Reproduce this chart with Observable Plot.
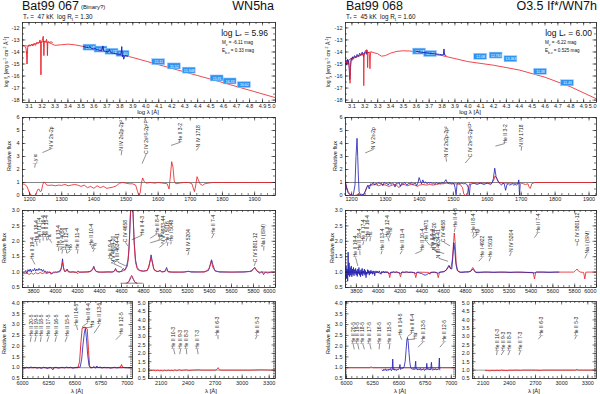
<!DOCTYPE html>
<html><head><meta charset="utf-8">
<script src="https://cdn.jsdelivr.net/npm/d3@7"></script>
<script src="https://cdn.jsdelivr.net/npm/@observablehq/plot@0.6"></script>
<style>
body{margin:0;background:#fff;}
#root{position:relative;width:600px;height:394px;overflow:hidden;background:#fff;font-family:"Liberation Sans",Arial,Helvetica,sans-serif;color:#111;}
.t{position:absolute;white-space:nowrap;line-height:1;}
.t sub,.t sup{line-height:0;}
</style></head><body><div id="root"></div>
<script>
// ---------------- DATA ----------------
// SED panels (log lambda, log f_lambda)
const sedModelL = [[3.05,-13.45],[3.08,-13.5],[3.1,-13.5],[3.15,-13.3],[3.2,-13.15],[3.25,-13.2],[3.3,-13.45],[3.35,-13.4],[3.4,-13.35],[3.45,-13.4],[3.5,-13.5],[3.55,-13.62],[3.6,-13.74],[3.7,-13.96],[3.8,-14.2],[3.9,-14.46],[4.0,-14.76],[4.2,-15.36],[4.4,-15.96],[4.6,-16.56],[4.8,-17.18],[5.0,-17.8]];
const sedUvObsL = [[3.05,-13.5],[3.06,-13.45],[3.07,-13.55],[3.075,-13.6],[3.08,-13.9],[3.085,-15.0],[3.088,-14.2],[3.09,-13.6],[3.1,-13.4],[3.11,-13.5],[3.12,-13.35],[3.13,-13.5],[3.14,-13.3],[3.15,-13.45],[3.16,-13.2],[3.17,-13.3],[3.18,-13.2],[3.185,-13.0],[3.19,-13.4],[3.192,-15.9],[3.195,-13.3],[3.2,-13.1],[3.205,-12.9],[3.21,-12.7],[3.212,-13.2],[3.215,-14.3],[3.218,-13.2],[3.22,-13.1],[3.23,-13.15],[3.235,-12.95],[3.24,-13.2],[3.242,-14.3],[3.245,-13.2],[3.25,-13.15],[3.26,-13.2],[3.27,-13.15],[3.28,-13.2]];
const sedOptObsL = [[3.52,-13.55],[3.54,-13.6],[3.56,-13.65],[3.57,-13.55],[3.58,-13.7],[3.6,-13.75],[3.61,-13.7],[3.62,-13.8],[3.64,-13.85],[3.66,-13.9],[3.67,-13.5],[3.675,-13.9],[3.69,-13.95],[3.71,-14.0],[3.72,-13.8],[3.73,-14.05],[3.75,-14.1],[3.77,-14.15],[3.79,-14.2],[3.81,-14.2],[3.815,-13.55],[3.82,-14.4],[3.825,-14.25],[3.83,-14.6],[3.84,-14.3],[3.86,-14.35]];
const photL = [[3.57,-13.64,"14.01"],[3.655,-13.8,"14.08"],[3.74,-13.98,"14.21"],[3.825,-14.15,"14.40"],[4.10,-14.85,"15.11"],[4.22,-15.2,"15.52"],[4.335,-15.55,"15.948"],[4.55,-16.2,"15.91"],[4.65,-16.45,"16.33"],[4.76,-16.75,"16.62"]];

const sedModelR = [[3.05,-14.8],[3.07,-14.7],[3.1,-14.5],[3.15,-14.3],[3.2,-14.1],[3.25,-14.0],[3.3,-14.15],[3.33,-14.35],[3.36,-14.3],[3.4,-14.1],[3.45,-13.95],[3.5,-13.9],[3.55,-13.92],[3.6,-14.0],[3.7,-14.15],[3.8,-14.3],[3.9,-14.55],[4.0,-14.8],[4.2,-15.1],[4.4,-15.5],[4.6,-16.1],[4.8,-16.9],[5.0,-17.9]];
const sedUvRedR = [[3.055,-14.9],[3.065,-14.8],[3.075,-14.95],[3.08,-15.3],[3.085,-16.6],[3.09,-15.2],[3.095,-14.7],[3.1,-14.6],[3.11,-14.55],[3.12,-14.5],[3.13,-14.4],[3.14,-14.45],[3.15,-14.3],[3.16,-14.35],[3.17,-14.2],[3.18,-14.25],[3.185,-14.1],[3.19,-14.3],[3.192,-16.8],[3.195,-14.3],[3.2,-14.1],[3.21,-14.0],[3.215,-13.8],[3.22,-14.2],[3.222,-15.3],[3.225,-14.1],[3.23,-14.0],[3.235,-14.1],[3.24,-15.4],[3.245,-14.05],[3.25,-14.0]];
const sedUvBlueR = [[3.055,-14.7],[3.06,-15.1],[3.065,-14.6],[3.07,-15.0],[3.075,-14.7],[3.08,-15.6],[3.083,-16.3],[3.086,-16.0],[3.09,-14.9],[3.095,-14.5],[3.1,-14.7],[3.105,-14.4],[3.11,-14.6],[3.12,-14.3],[3.13,-14.5],[3.14,-14.2],[3.15,-14.4],[3.16,-14.1],[3.17,-14.3],[3.18,-14.0],[3.19,-14.4],[3.2,-14.0],[3.21,-13.85],[3.215,-14.2],[3.22,-13.9]];
const sedOptObsR = [[3.6,-13.95],[3.63,-14.0],[3.66,-14.05],[3.7,-14.1],[3.74,-14.15],[3.78,-14.2],[3.81,-14.25],[3.815,-13.75],[3.82,-14.25],[3.83,-14.28]];
const photR = [[3.625,-13.97,"12.93"],[3.71,-14.17,"12.86"],[4.10,-14.4,"12.08"],[4.22,-14.3,"12.763"],[4.335,-14.6,"13.363"],[4.565,-15.65,"11.38"],[4.775,-16.6,"11.43"]];

// UV panels (lambda, relative flux)
const uvRedL = [[1178,0.9],[1185,0.85],[1192,0.7],[1198,0.3],[1203,0.05],[1210,0.0],[1215,0.0],[1220,0.1],[1225,0.45],[1229,0.5],[1233,0.3],[1237,0.35],[1241,0.85],[1245,1.05],[1249,0.95],[1253,0.8],[1260,0.78],[1270,0.8],[1280,0.75],[1290,0.8],[1300,0.78],[1310,0.85],[1320,0.75],[1330,0.8],[1340,0.85],[1350,0.8],[1360,0.7],[1370,0.8],[1380,0.6],[1390,0.7],[1400,0.55],[1410,0.75],[1420,0.6],[1430,0.7],[1440,0.55],[1450,0.6],[1460,0.65],[1470,0.75],[1480,0.95],[1490,1.0],[1500,0.95],[1510,0.9],[1520,0.9],[1530,0.8],[1536,0.3],[1540,0.0],[1544,0.2],[1548,1.0],[1552,1.35],[1556,1.1],[1562,0.95],[1575,1.0],[1590,0.95],[1600,1.0],[1615,0.95],[1628,0.9],[1634,0.5],[1638,1.5],[1642,2.6],[1646,2.2],[1650,1.1],[1655,0.9],[1665,0.95],[1680,1.0],[1695,1.0],[1705,0.9],[1710,0.5],[1713,0.3],[1717,0.8],[1721,1.45],[1725,1.2],[1730,0.9],[1738,0.78],[1745,0.9],[1755,0.95],[1770,1.0],[1800,1.0],[1850,1.0],[1900,1.0],[1965,1.0]];
const uvBlueR = [[1182,0.95],[1186,0.5],[1190,0.2],[1195,0.05],[1200,0.0],[1205,0.05],[1210,0.8],[1213,3.0],[1216,4.4],[1218,3.0],[1220,1.5],[1222,0.3],[1226,0.05],[1230,0.1],[1235,0.05],[1240,0.3],[1244,0.6],[1248,0.8],[1252,0.5],[1256,0.9],[1260,0.85],[1264,1.0],[1268,0.8],[1272,0.95],[1276,0.85],[1280,1.0],[1284,0.9],[1288,0.95],[1292,0.75],[1296,1.0],[1300,0.9],[1304,0.95],[1308,0.8],[1312,1.0],[1316,0.85],[1320,0.95],[1324,0.9],[1328,0.65],[1332,0.95],[1336,0.9],[1340,1.0],[1344,0.7],[1348,0.95],[1352,0.85],[1356,1.0],[1360,0.9],[1364,0.8],[1368,0.95],[1372,0.9],[1376,1.0],[1380,0.85],[1384,0.9],[1388,0.95],[1392,0.75],[1396,1.0],[1399,1.38],[1403,1.1],[1406,0.9],[1410,1.2],[1414,0.95],[1418,1.05],[1422,0.9],[1426,1.0],[1430,0.95],[1434,1.0],[1438,0.9],[1442,0.95],[1446,0.85],[1450,1.0],[1454,0.9],[1458,0.95],[1462,0.9],[1466,1.0],[1470,0.95],[1474,1.05],[1478,1.22],[1482,1.0],[1486,0.95],[1490,1.0],[1494,0.9],[1498,0.95],[1502,0.9],[1505,0.6],[1508,0.05],[1511,0.9],[1515,0.95],[1520,0.9],[1525,0.95],[1530,0.9],[1535,0.92],[1540,0.85],[1544,0.6],[1547,0.02],[1550,0.85],[1555,0.9],[1560,0.95],[1565,0.9],[1570,0.85],[1575,0.9],[1580,0.95],[1585,0.9],[1590,0.85],[1595,0.9],[1600,0.95],[1605,0.9],[1610,0.85],[1614,0.95],[1618,1.3],[1622,2.1],[1626,1.45],[1630,1.2],[1634,1.0],[1638,0.9],[1642,0.8],[1646,0.95],[1650,0.9],[1654,0.4],[1658,0.85],[1662,0.9],[1666,0.8],[1670,0.85],[1674,0.9],[1678,0.8],[1682,0.85],[1686,0.8],[1690,0.9],[1693,1.2],[1695,0.0],[1697,0.85]];
const uvRedR = [[1182,1.0],[1186,0.6],[1190,0.3],[1195,0.1],[1200,0.0],[1210,0.0],[1215,0.05],[1220,0.1],[1225,0.05],[1230,0.0],[1235,0.05],[1240,0.3],[1245,0.6],[1250,0.75],[1260,0.8],[1270,0.85],[1280,0.75],[1290,0.85],[1300,0.8],[1310,0.7],[1320,0.8],[1330,0.85],[1340,0.6],[1345,0.8],[1355,0.85],[1365,0.75],[1375,0.85],[1385,0.8],[1395,0.7],[1400,0.8],[1410,0.85],[1420,0.8],[1430,0.85],[1440,0.8],[1450,0.85],[1460,0.9],[1470,0.9],[1480,0.95],[1490,0.9],[1500,0.9],[1510,0.9],[1520,0.85],[1527,0.6],[1531,0.1],[1536,0.0],[1541,0.1],[1545,0.7],[1550,1.0],[1560,0.95],[1580,0.95],[1600,0.95],[1612,0.95],[1618,1.1],[1623,1.5],[1628,1.3],[1634,1.0],[1650,0.95],[1670,0.95],[1690,0.9],[1700,0.95],[1712,0.85],[1720,0.9],[1724,0.6],[1727,0.55],[1731,0.9],[1740,1.0],[1800,1.0],[1850,1.0],[1922,1.0]];

// Optical panels
const optBlueL = [[3720,1.0],[3730,1.05],[3740,0.95],[3750,1.08],[3760,1.02],[3770,1.1],[3780,1.0],[3790,1.08],[3800,1.04],[3810,1.12],[3820,1.03],[3830,1.1],[3840,1.05],[3850,1.12],[3860,1.06],[3870,1.1],[3880,1.02],[3890,1.08],[3900,1.0],[3910,1.04],[3920,0.96],[3930,1.02],[3940,0.98],[3950,1.01],[3960,0.93],[3970,0.97],[3980,1.0],[3990,0.98],[4000,1.0],[4010,0.99],[4020,1.01],[4030,1.0],[4045,1.03],[4055,1.15],[4064,1.43],[4072,1.15],[4082,1.02],[4095,1.03],[4105,1.1],[4115,1.03],[4135,1.0],[4160,1.01],[4185,0.99],[4198,1.0],[4206,1.04],[4215,1.0],[4250,1.0],[4290,1.01],[4325,1.03],[4340,1.12],[4348,1.19],[4356,1.1],[4370,1.02],[4400,1.0],[4440,1.0],[4480,1.01],[4520,1.0],[4535,1.03],[4546,1.12],[4558,1.03],[4580,1.0],[4600,1.03],[4616,1.12],[4630,1.06],[4645,1.18],[4660,1.4],[4672,2.0],[4682,2.9],[4694,3.35],[4705,2.9],[4715,2.0],[4727,1.4],[4742,1.15],[4765,1.05],[4800,1.03],[4830,1.05],[4848,1.15],[4862,1.4],[4869,1.56],[4877,1.4],[4892,1.12],[4912,1.03],[4935,1.02],[4950,1.06],[4965,1.01],[4995,1.02],[5010,1.15],[5022,1.02],[5060,1.0],[5120,1.0],[5170,1.0],[5212,1.03],[5230,1.0],[5290,1.0],[5350,1.01],[5390,1.05],[5408,1.25],[5419,1.4],[5430,1.25],[5448,1.05],[5490,1.0],[5560,1.0],[5630,1.0],[5710,1.0],[5765,1.02],[5795,1.08],[5810,1.15],[5824,1.08],[5842,1.0],[5860,0.96],[5876,1.02],[5892,0.92],[5906,1.0],[5930,0.97],[5960,1.0],[5980,0.99]];
const optRedL = [[3700,0.97],[3720,0.95],[3740,0.98],[3760,0.92],[3780,0.97],[3800,0.93],[3820,0.98],[3840,0.94],[3860,0.99],[3880,0.95],[3900,0.98],[3925,0.96],[3950,1.0],[3970,0.95],[3990,1.0],[4020,1.0],[4048,1.08],[4064,1.33],[4076,1.08],[4094,1.02],[4106,1.07],[4118,1.0],[4185,1.0],[4204,0.95],[4218,1.0],[4305,1.0],[4336,1.08],[4348,1.15],[4360,1.05],[4385,1.0],[4505,1.0],[4534,1.03],[4546,1.08],[4559,1.01],[4604,1.02],[4634,1.08],[4654,1.2],[4668,1.7],[4678,2.7],[4690,3.45],[4704,3.0],[4716,1.9],[4728,1.3],[4746,1.08],[4786,1.03],[4836,1.05],[4856,1.3],[4868,1.48],[4881,1.3],[4896,1.07],[4926,1.02],[4950,1.04],[4975,1.0],[5004,1.05],[5012,1.08],[5027,1.0],[5150,1.0],[5205,1.02],[5355,1.0],[5396,1.1],[5416,1.36],[5431,1.15],[5456,1.02],[5600,1.0],[5782,1.02],[5802,1.12],[5814,1.15],[5827,1.05],[5852,1.0],[6000,1.0]];
const insetBaseL = [[4595,0.64],[4790,0.64]];
const insetRedL = [[4640,0.64],[4665,0.68],[4680,0.82],[4692,0.9],[4705,0.8],[4720,0.68],[4740,0.64]];
const insetBlueL = [[4650,0.64],[4670,0.7],[4685,0.82],[4695,0.86],[4708,0.76],[4722,0.67],[4740,0.64]];

const optBlueR = [[3700,0.75],[3705,1.2],[3710,0.8],[3715,1.1],[3720,0.7],[3724,1.65],[3728,0.9],[3733,1.3],[3738,0.85],[3743,1.15],[3748,0.9],[3753,1.2],[3758,0.85],[3763,1.1],[3768,0.92],[3773,1.15],[3778,0.88],[3783,1.08],[3788,0.95],[3793,1.12],[3798,0.9],[3803,1.05],[3808,0.86],[3813,1.1],[3818,0.95],[3823,1.15],[3828,0.9],[3833,1.05],[3838,0.85],[3843,1.08],[3848,0.92],[3853,1.12],[3858,0.88],[3863,1.04],[3868,0.95],[3873,1.1],[3878,0.9],[3883,1.05],[3888,0.82],[3893,1.0],[3898,0.93],[3903,1.08],[3908,0.96],[3913,1.05],[3918,0.9],[3923,1.03],[3928,0.95],[3933,1.06],[3938,0.97],[3943,1.02],[3948,0.93],[3953,1.04],[3958,0.98],[3963,1.03],[3968,0.88],[3973,1.0],[3980,1.04],[3988,0.97],[3995,1.03],[4003,0.98],[4010,1.04],[4018,0.97],[4026,0.93],[4033,1.02],[4040,0.98],[4048,1.03],[4056,0.97],[4064,1.02],[4072,0.98],[4080,1.02],[4090,0.97],[4104,0.94],[4114,1.0],[4124,0.98],[4139,1.01],[4154,0.99],[4169,1.01],[4184,0.98],[4204,0.96],[4219,1.0],[4239,0.99],[4259,1.01],[4279,0.99],[4304,1.0],[4324,0.98],[4344,0.96],[4359,0.99],[4379,0.97],[4399,0.95],[4414,0.92],[4429,0.9],[4444,0.92],[4459,0.95],[4474,0.97],[4494,0.99],[4514,1.0],[4534,0.98],[4548,0.96],[4561,0.99],[4581,1.0],[4601,1.01],[4621,1.06],[4636,1.15],[4648,1.22],[4661,1.12],[4674,1.1],[4684,1.5],[4693,1.95],[4702,1.7],[4712,1.25],[4725,1.05],[4742,1.0],[4767,0.99],[4797,1.0],[4827,1.0],[4852,1.04],[4866,1.1],[4876,1.06],[4893,0.99],[4918,0.98],[4938,0.99],[4968,1.0],[5008,1.0],[5058,0.99],[5108,1.0],[5158,1.0],[5208,0.99],[5258,1.0],[5308,1.0],[5358,0.99],[5408,0.98],[5428,0.97],[5448,1.0],[5508,1.0],[5568,0.99],[5628,1.0],[5655,1.0]];
const optRedR = [[3700,1.0],[3760,1.0],[3800,0.99],[3835,0.97],[3860,1.0],[3888,0.95],[3900,1.0],[3965,0.95],[3980,1.0],[4020,0.96],[4030,1.0],[4095,0.99],[4105,0.82],[4117,1.0],[4192,0.99],[4204,0.85],[4216,1.0],[4332,0.99],[4344,0.82],[4356,1.0],[4462,0.99],[4473,0.93],[4482,1.0],[4538,0.99],[4550,0.82],[4562,1.0],[4604,1.02],[4629,1.08],[4649,1.2],[4664,1.1],[4679,1.4],[4691,2.0],[4697,2.27],[4704,2.0],[4714,1.3],[4727,1.05],[4752,1.0],[4846,1.02],[4866,1.15],[4876,1.1],[4891,1.0],[5000,1.0],[5420,0.99],[5432,0.78],[5442,0.98],[5452,1.0],[5790,1.0],[5808,1.05],[5822,1.1],[5836,1.03],[5852,1.0],[5882,0.99],[5893,0.78],[5903,1.0],[6000,1.0]];

// H-alpha panels
const haBlueL = [[6000,1.0],[6020,0.98],[6040,1.02],[6060,0.99],[6080,1.03],[6100,1.0],[6120,1.02],[6140,0.98],[6160,1.01],[6180,0.97],[6200,1.02],[6220,1.0],[6240,0.96],[6250,0.99],[6270,1.02],[6290,0.9],[6300,1.0],[6320,1.02],[6340,0.98],[6360,1.0],[6380,1.02],[6400,0.99],[6420,1.03],[6440,1.0],[6460,1.02],[6480,0.98],[6500,1.0],[6520,1.02],[6550,1.02],[6565,1.4],[6578,2.1],[6590,2.6],[6600,2.82],[6610,2.4],[6622,1.6],[6635,1.1],[6648,1.0],[6665,1.0],[6680,1.05],[6700,0.98],[6710,1.08],[6720,1.0],[6740,1.03],[6760,0.99],[6780,1.02],[6800,1.0],[6820,1.01],[6840,0.98],[6860,1.0],[6880,1.02],[6900,0.99],[6920,1.0],[6950,1.0],[6970,1.01],[7000,1.0],[7045,1.0]];
const haRedL = [[6000,1.0],[6200,1.0],[6400,1.0],[6530,1.0],[6545,1.3],[6558,2.2],[6570,2.85],[6595,2.88],[6618,2.8],[6630,1.8],[6640,1.1],[6650,1.0],[6700,1.02],[6750,1.0],[6900,1.0],[6935,1.03],[6945,1.15],[6955,1.03],[6970,1.0],[7050,1.0]];
const haBlueR = [[6340,0.9],[6348,0.85],[6356,0.93],[6364,0.88],[6372,0.95],[6380,0.86],[6388,0.92],[6396,0.87],[6404,0.94],[6412,0.89],[6420,0.96],[6428,0.86],[6436,0.92],[6441,1.4],[6446,0.9],[6454,0.95],[6462,0.88],[6470,0.93],[6478,0.87],[6486,0.94],[6494,0.9],[6502,0.96],[6510,1.15],[6515,0.92],[6523,0.95],[6531,0.98],[6540,0.97],[6550,1.05],[6560,1.3],[6568,1.8],[6576,2.3],[6582,2.4],[6588,2.2],[6596,1.7],[6604,1.25],[6612,1.02],[6620,0.95],[6628,0.92],[6636,0.97],[6644,0.9],[6652,0.95],[6660,1.3],[6664,0.92],[6672,0.96],[6680,0.89],[6688,0.95],[6696,0.9],[6704,0.97],[6712,0.88],[6720,0.94],[6728,0.9],[6736,0.96],[6744,0.87],[6752,0.93],[6760,0.9],[6766,1.2],[6772,0.92],[6780,0.96],[6788,0.89],[6796,0.95],[6804,0.9],[6810,1.25],[6816,0.93],[6824,0.88],[6832,0.95],[6840,0.9],[6848,0.96],[6856,0.89],[6864,0.94],[6872,0.9],[6880,0.95],[6886,1.45],[6890,0.9]];
const haRedR = [[5990,1.0],[6225,1.0],[6235,1.05],[6245,1.0],[7040,1.0]];

// near-UV (IUE long wavelength) panels
const nuvRedL = [[1985,0.97],[2020,1.0],[2040,0.96],[2060,1.0],[2080,0.96],[2100,0.98],[2120,0.95],[2140,0.99],[2160,0.96],[2180,1.0],[2200,0.97],[2220,0.99],[2240,0.96],[2253,1.02],[2270,0.97],[2290,1.0],[2306,1.03],[2320,0.98],[2350,1.0],[2385,1.02],[2400,0.98],[2450,1.0],[2511,1.02],[2550,1.0],[2600,1.0],[2700,1.0],[2720,1.05],[2733,1.15],[2746,1.03],[2760,1.0],[2900,1.0],[3100,1.0],[3203,1.02],[3370,1.0]];
const nuvRedR = [[2126,0.97],[2150,0.98],[2175,0.96],[2200,0.98],[2230,0.97],[2260,0.99],[2290,0.97],[2310,1.0],[2340,0.98],[2380,0.97],[2400,1.0],[2420,0.99],[2500,1.0],[2528,0.98],[2550,1.0],[2700,1.0],[2765,0.98],[2780,1.0],[3000,1.0],[3160,1.0],[3175,1.05],[3190,1.0],[3400,1.0]];

// line identifications: [line lambda, text lambda, leader start y, text start y, label]
const labUVL = [[1216,1218,2.15,2.45,"Ly α"],[1240,1268,3.3,3.6,"N V 2s-2p"],[1485,1487,3.1,3.45,"N IV 2s2p-2p²"],[1550,1563,2.45,3.2,"C IV 2s²S-2p²P°"],[1640,1670,3.85,4.1,"He II 3-2"],[1718,1726,3.45,3.7,"N IV 1718"]];
const labUVR = [[1240,1265,3.27,3.55,"N V 2s-2p"],[1480,1478,2.6,2.95,"N IV 2s2p-2p²"],[1535,1550,2.5,2.95,"C IV 2s²S-2p²P°"],[1624,1652,3.8,4.0,"He II 3-2"],[1700,1701,3.45,3.75,"N IV 1718"]];
const labOptL = [[3813,3788,1.25,1.42,"He II 19-4"],[3833,3827,1.85,1.97,"He II 18-4"],[3858,3857,1.95,2.05,"He II 17-4"],[3888,3888,2.02,2.13,"He II 16-4"],[3923,3918,2.02,2.13,"He II 15-4"],[3968,3948,1.95,2.05,"Hε"],[4026,4030,1.68,1.81,"He II 13-4"],[4058,4064,1.6,1.72,"N IV 4058"],[4100,4100,1.62,1.72,"He II 12-4"],[4102,4136,1.6,1.7,"Hδ"],[4200,4203,1.6,1.72,"He II 11-4"],[4340,4324,1.75,1.86,"He II 10-4"],[4340,4355,1.66,1.76,"Hγ"],[4542,4500,1.3,1.43,"He II 9-4"],[4604,4530,1.15,1.27,"N V 4604-20"],[4640,4567,1.2,1.32,"N III 4634-41"],[4658,4636,1.85,1.97,"C IV 4658"],[4694,4788,2.05,2.2,"He II 4-3"],[4861,4924,2.1,2.24,"He II 8-4"],[4861,4955,1.95,2.05,"Hβ"],[4945,4985,1.8,1.92,"N V 4933-44"],[5016,5021,1.85,1.95,"He I 5016"],[5048,5052,1.9,2.0,"He I 5048"],[5204,5212,1.55,1.67,"N IV 5204"],[5419,5439,2.1,2.24,"He II 7-4"],[5806,5818,1.2,1.32,"C IV 5801-12"],[5893,5894,1.7,1.82,"Na I (ISM)"]];
const labOptR = [[3813,3792,1.2,1.48,"He II 19-4"],[3833,3831,1.55,1.7,"He II 18-4"],[3858,3868,1.88,2.0,"He II 17-4"],[3888,3899,2.0,2.13,"He II 16-4"],[3923,3929,2.0,2.13,"Hε"],[4026,4036,1.58,1.7,"He II 13-4"],[4100,4088,2.0,2.13,"He II 12-4"],[4102,4112,2.12,2.24,"Hδ"],[4200,4220,1.58,1.7,"He II 11-4"],[4340,4403,1.6,1.7,"He II 10-4"],[4471,4442,1.88,2.0,"He I 4471"],[4542,4494,1.65,1.78,"He II 9-4"],[4604,4516,1.6,1.7,"N V 4604-20"],[4640,4553,1.35,1.45,"N III 4634-41"],[4658,4601,1.85,1.97,"C IV 4658"],[4697,4705,2.3,2.45,"He II 4-3"],[4866,4876,2.15,2.28,"He II 8-4"],[4866,4906,2.1,2.2,"Hβ"],[4921,4953,1.35,1.48,"He I 4922"],[5016,5029,1.35,1.48,"He I 5016"],[5204,5219,1.52,1.65,"N IV 5204"],[5432,5463,2.12,2.28,"He II 7-4"],[5822,5824,1.85,1.97,"C IV 5801-12"],[5893,5915,1.45,1.6,"Na I (ISM)"]];
const labHaL = [[6074,6083,2.2,2.45,"He II 20-5"],[6118,6130,2.2,2.45,"He II 19-5"],[6171,6178,2.2,2.45,"He II 18-5"],[6234,6251,2.2,2.45,"He II 17-5"],[6311,6324,2.2,2.45,"He II 16-5"],[6407,6426,2.2,2.45,"He II 15-5"],[6527,6515,2.75,2.95,"He II 14-5"],[6570,6627,2.9,3.1,"He II 6-4"],[6575,6665,2.85,2.88,"Hα"],[6683,6738,2.6,3.0,"He II 13-5"],[6891,6942,2.3,2.55,"He II 12-5"]];
const labHaR = [[6074,6063,1.85,2.1,"He II 20-5"],[6118,6107,1.85,2.1,"He II 19-5"],[6171,6155,1.85,2.1,"He II 18-5"],[6234,6222,1.85,2.1,"He II 17-5"],[6311,6315,1.85,2.1,"He II 16-5"],[6407,6413,1.85,2.1,"He II 15-5"],[6527,6510,2.3,2.5,"He II 14-5"],[6582,6624,2.45,2.6,"He II 6-4"],[6585,6653,2.3,2.33,"Hα"],[6683,6733,1.95,2.2,"He II 13-5"],[6891,6934,1.95,2.2,"He II 12-5"]];
const labNuvL = [[2253,2239,1.95,2.26,"He II 10-3"],[2306,2317,1.95,2.26,"He II 9-3"],[2385,2380,1.95,2.26,"He II 8-3"],[2511,2502,1.95,2.26,"He II 7-3"],[2733,2730,2.85,3.05,"He II 6-3"],[3147,3164,2.85,3.05,"He II 5-3"]];
const labNuvR = [[2253,2260,1.9,2.15,"He II 10-3"],[2306,2336,1.9,2.15,"He II 9-3"],[2385,2405,1.9,2.15,"He II 8-3"],[2511,2528,1.9,2.15,"He II 7-3"],[2733,2765,2.85,3.05,"He II 6-3"],[3150,3170,2.85,3.05,"He II 5-3"]];

// tick values
const sedXTicks = [3.1,3.2,3.3,3.4,3.5,3.6,3.7,3.8,3.9,4.0,4.1,4.2,4.3,4.4,4.5,4.6,4.7,4.8,4.9,5.0];
const sedYTicks = [-12,-13,-14,-15,-16,-17,-18];
const uvXTicks = [1200,1300,1400,1500,1600,1700,1800,1900];
const uvYTicks = [0,1,2,3,4,5,6];
const optXTicks = [3800,4000,4200,4400,4600,4800,5000,5200,5400,5600,5800,6000];
const optYTicks = [0.5,1.0,1.5,2.0,2.5,3.0];
const haXTicks = [6000,6250,6500,6750,7000];
const haYTicks = [0.5,1.0,1.5,2.0,2.5,3.0,3.5,4.0];
const nuvXTicks = [2100,2400,2700,3000,3300];
const nuvYTicks = [0.5,1.0,1.5,2.0,2.5,3.0,3.5,4.0,4.5,5.0];

// ---------------- DRAWING ----------------
const root = document.getElementById("root");
const RED = "#ea1a22", BLUE = "#1c1cb4", INK = "#222";
const FONT = "Liberation Sans, Arial, Helvetica, sans-serif";

function txt(html, x, y, size, anchor = "start", rot = false) {
  const d = document.createElement("div");
  d.className = "t"; d.innerHTML = html;
  d.style.left = x + "px"; d.style.top = y + "px"; d.style.fontSize = size + "px";
  const tx = anchor === "start" ? "0" : anchor === "end" ? "-100%" : "-50%";
  d.style.transform = `translate(${tx},-50%)` + (rot ? " rotate(-90deg)" : "");
  root.appendChild(d);
}
const f1 = d => d.toFixed(1), f0 = d => String(d);
const line = (data, color, w = 0.8) => Plot.line(data, {x: d => d[0], y: d => d[1], stroke: color, strokeWidth: w, clip: true});
const labels = (arr) => [
  Plot.link(arr, {x1: d => d[0], y1: d => d[2], x2: d => d[1], y2: d => d[3], stroke: INK, strokeWidth: 0.5}),
  Plot.text(arr, {x: d => d[1], y: d => d[3], text: d => d[4], rotate: -90, textAnchor: "start", fontSize: 5, fill: INK})
];
const boxes = (arr) => [
  Plot.rect(arr, {x1: d => d[0] - 0.05, x2: d => d[0] + 0.05, y1: d => d[1] - 0.25, y2: d => d[1] + 0.25, fill: "#2f93f0", stroke: "#a5d2ff", strokeWidth: 0.5}),
  Plot.text(arr, {x: d => d[0], y: d => d[1], text: d => d[2], fontSize: 3.5, fill: "#fff"})
];

function panel(o) {
  const {left, top, width, height, xd, yd, xt, xm, yt, ym, xf, yf, endTick = null, marks, xdy = 1.5} = o;
  const tk = {stroke: INK, strokeWidth: 0.6};
  const ms = [
    ...marks,
    Plot.tickX(xt, {x: d => d, insetTop: height - 3.5, ...tk}),
    Plot.tickX(xt, {x: d => d, insetBottom: height - 3.5, ...tk}),
    Plot.tickX(xm, {x: d => d, insetTop: height - 2, ...tk}),
    Plot.tickX(xm, {x: d => d, insetBottom: height - 2, ...tk}),
    Plot.tickY(yt, {y: d => d, insetRight: width - 3.5, ...tk}),
    Plot.tickY(yt, {y: d => d, insetLeft: width - 3.5, ...tk}),
    Plot.tickY(ym, {y: d => d, insetRight: width - 2, ...tk}),
    Plot.tickY(ym, {y: d => d, insetLeft: width - 2, ...tk}),
    Plot.frame({stroke: INK, strokeWidth: 0.8}),
    Plot.text(xt.filter(v => v !== endTick), {x: d => d, frameAnchor: "bottom", lineAnchor: "top", dy: xdy, text: xf, fontSize: 5.5, fill: INK}),
    Plot.text(yt, {y: d => d, frameAnchor: "left", textAnchor: "end", dx: -3, text: yf, fontSize: 5.5, fill: INK})
  ];
  if (endTick !== null) ms.push(Plot.text([endTick], {x: d => d, frameAnchor: "bottom", lineAnchor: "top", textAnchor: "end", dy: xdy, text: xf, fontSize: 5.5, fill: INK}));
  const svg = Plot.plot({
    width, height, marginTop: 0, marginRight: 0, marginBottom: 0, marginLeft: 0,
    x: {domain: xd, axis: null}, y: {domain: yd, axis: null},
    style: {overflow: "visible", background: "transparent", fontFamily: FONT},
    marks: ms
  });
  svg.style.position = "absolute"; svg.style.left = left + "px"; svg.style.top = top + "px";
  root.appendChild(svg);
}

const sedXm = d3.range(3.05, 5.0, 0.05), sedYm = d3.range(-18, -11.5, 0.5);
const uvXm = d3.range(1180, 1965, 20), uvYm = d3.range(0, 6, 0.5);
const optXm = d3.range(3700, 6001, 50), optYm = d3.range(0.5, 3.0, 0.1);
const haXm = d3.range(6000, 7050, 50), haYm = d3.range(0.5, 4.05, 0.1);
const nuvXm = d3.range(2000, 3400, 50), nuvYm = d3.range(0.5, 5.1, 0.1);

// SED
panel({left: 22, top: 22, width: 253, height: 80, xd: [3.05, 5.0], yd: [-18.2, -11.55], xt: sedXTicks, xm: sedXm, yt: sedYTicks, ym: sedYm, xf: f1, yf: f0, endTick: 5.0,
  marks: [line(sedModelL, RED, 0.8), ...boxes(photL), line(sedUvObsL, RED, 0.9), line(sedOptObsL, BLUE, 0.9)]});
panel({left: 345, top: 22, width: 251, height: 80, xd: [3.05, 5.0], yd: [-18.2, -11.55], xt: sedXTicks, xm: sedXm, yt: sedYTicks, ym: sedYm, xf: f1, yf: f0, endTick: 5.0,
  marks: [line(sedModelR, RED, 0.8), ...boxes(photR), line(sedUvBlueR, BLUE, 0.8), line(sedUvRedR, RED, 0.8), line(sedOptObsR, BLUE, 0.9)]});

// UV
panel({left: 22, top: 117, width: 253, height: 78, xd: [1178, 1965], yd: [0, 6], xt: uvXTicks, xm: uvXm, yt: uvYTicks, ym: uvYm, xf: f0, yf: f0, xdy: 2,
  marks: [Plot.ruleY([1], {stroke: "#333", strokeWidth: 0.6}), line(uvRedL, RED, 0.8), ...labels(labUVL)]});
panel({left: 345, top: 117, width: 251, height: 78, xd: [1182, 1922], yd: [0, 6], xt: uvXTicks, xm: uvXm.filter(v => v <= 1922), yt: uvYTicks, ym: uvYm, xf: f0, yf: f0, xdy: 2,
  marks: [Plot.ruleY([1], {stroke: "#333", strokeWidth: 0.6}), line(uvRedR, RED, 0.8), line(uvBlueR, BLUE, 0.8), ...labels(labUVR)]});

// Optical
panel({left: 22, top: 210, width: 253, height: 77, xd: [3700, 6000], yd: [0.5, 3.0], xt: optXTicks, xm: optXm, yt: optYTicks, ym: optYm, xf: f0, yf: f1, endTick: 6000,
  marks: [line(optBlueL, BLUE, 0.8), line(optRedL, RED, 0.8), line(insetBaseL, "#333", 0.6), line(insetBlueL, BLUE, 0.7), line(insetRedL, RED, 0.7), ...labels(labOptL)]});
panel({left: 345, top: 210, width: 251, height: 77, xd: [3700, 6000], yd: [0.5, 3.0], xt: optXTicks, xm: optXm, yt: optYTicks, ym: optYm, xf: f0, yf: f1, endTick: 6000,
  marks: [line(optRedR, RED, 0.8), line(optBlueR, BLUE, 0.8), ...labels(labOptR)]});

// H-alpha
panel({left: 22, top: 301, width: 110, height: 77, xd: [6000, 7050], yd: [0.5, 4.07], xt: haXTicks, xm: haXm, yt: haYTicks, ym: haYm, xf: f0, yf: f1, xdy: 3,
  marks: [Plot.ruleY([1], {stroke: "#333", strokeWidth: 0.5}), line(haRedL, RED, 0.9), line(haBlueL, BLUE, 0.8), ...labels(labHaL)]});
panel({left: 345, top: 301, width: 110, height: 77, xd: [5990, 7040], yd: [0.5, 4.07], xt: haXTicks, xm: haXm, yt: haYTicks, ym: haYm, xf: f0, yf: f1, xdy: 3,
  marks: [Plot.ruleY([1], {stroke: "#333", strokeWidth: 0.5}), line(haRedR, RED, 0.9), line(haBlueR, BLUE, 0.8), ...labels(labHaR)]});

// near UV
panel({left: 148, top: 301, width: 127, height: 77, xd: [1960, 3370], yd: [0.5, 5.1], xt: nuvXTicks, xm: nuvXm.filter(v => v <= 3370), yt: nuvYTicks, ym: nuvYm, xf: f0, yf: f1, xdy: 3,
  marks: [Plot.ruleY([1], {stroke: "#333", strokeWidth: 0.5}), line(nuvRedL, RED, 0.8), ...labels(labNuvL)]});
panel({left: 472, top: 301, width: 124, height: 77, xd: [1977, 3400], yd: [0.5, 5.1], xt: nuvXTicks, xm: nuvXm, yt: nuvYTicks, ym: nuvYm, xf: f0, yf: f1, xdy: 3,
  marks: [Plot.ruleY([1], {stroke: "#333", strokeWidth: 0.5}), line(nuvRedR, RED, 0.8), ...labels(labNuvR)]});

// ---------------- TEXT ----------------
txt("Bat99 067", 22, 6, 12.5);
txt("(Binary?)", 81, 7, 6);
txt("WN5ha", 274, 6, 12.5, "end");
txt("T<sub style='font-size:70%'>*</sub> = &nbsp;47 kK &nbsp;log R<sub style='font-size:70%'>t</sub> = 1.30", 23, 16.6, 6.3);
txt("Bat99 068", 346, 6, 12.5);
txt("O3.5 If*/WN7h", 597, 6, 12.5, "end");
txt("T<sub style='font-size:70%'>*</sub> = &nbsp;45 kK &nbsp;log R<sub style='font-size:70%'>t</sub> = 1.60", 346, 16.6, 6.3);

txt("log L<sub style='font-size:65%'>*</sub> = 5.96", 268, 32.5, 8.5, "end");
txt("M<sub style='font-size:70%'>v</sub> = -6.11 mag", 222, 42.5, 4.6);
txt("E<sub style='font-size:70%'>b-v</sub> = 0.33 mag", 222, 50.5, 4.6);
txt("log L<sub style='font-size:65%'>*</sub> = 6.00", 592, 32.5, 8.5, "end");
txt("M<sub style='font-size:70%'>v</sub> = -6.22 mag", 545, 43, 4.6);
txt("E<sub style='font-size:70%'>b-v</sub> = 0.525 mag", 545, 51, 4.6);

const ylab = "log f<sub style='font-size:70%'>λ</sub> [erg s<sup style='font-size:70%'>-1</sup> cm<sup style='font-size:70%'>-2</sup> Å<sup style='font-size:70%'>-1</sup>]";
txt(ylab, 6.5, 62, 5.2, "middle", true);
txt(ylab, 329, 62, 5.2, "middle", true);
txt("log λ [Å]", 148, 112, 6, "middle");
txt("log λ [Å]", 470, 112, 6, "middle");
txt("Relative flux", 10, 156, 5.5, "middle", true);
txt("Relative flux", 336, 156, 5.5, "middle", true);
txt("Relative flux", 5, 248, 5.5, "middle", true);
txt("Relative flux", 333, 248, 5.5, "middle", true);
txt("Relative flux", 5, 339, 5.5, "middle", true);
txt("Relative flux", 329, 339, 5.5, "middle", true);
txt("λ [Å]", 77, 390.5, 6, "middle");
txt("λ [Å]", 211, 390.5, 6, "middle");
txt("λ [Å]", 400, 390.5, 6, "middle");
txt("λ [Å]", 534, 390.5, 6, "middle");
</script></body></html>
